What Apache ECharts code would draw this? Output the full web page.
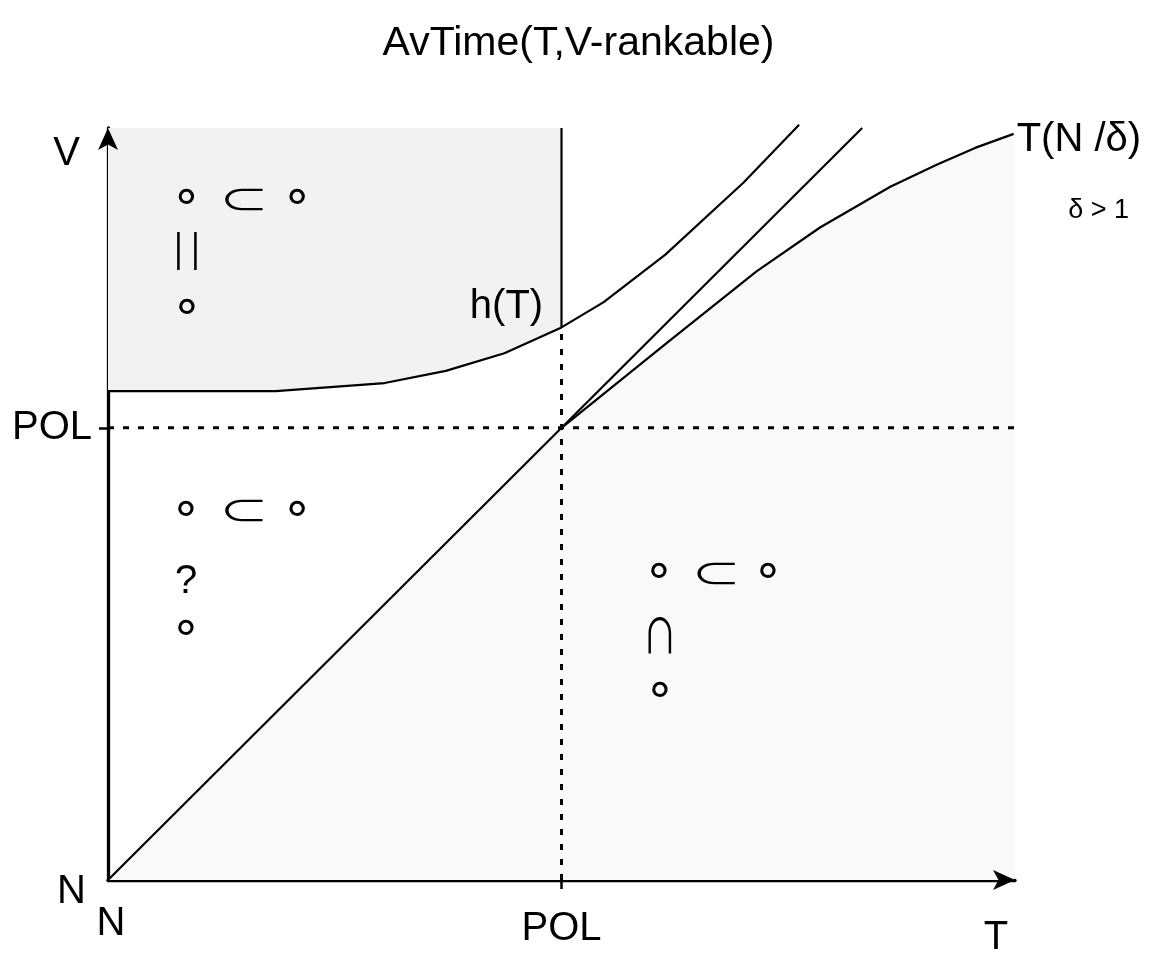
<!DOCTYPE html>
<html>
<head>
<meta charset="utf-8">
<title>AvTime(T,V-rankable)</title>
<script src="https://cdn.jsdelivr.net/npm/echarts@6/dist/echarts.min.js"></script>
<style>
  html, body { margin: 0; padding: 0; background: #ffffff; }
  #chart { width: 1157px; height: 958px; }
</style>
</head>
<body>
<div id="chart"></div>
<script>
// Axis extents (T horizontally, V vertically); N sits at 0, POL at 1.
const T_MAX = 2;
const V_MAX = 1.663;
const POL = 1;
const xTickValues = [0, POL];
const xTickLabels = ['N', 'POL'];
const yTickValues = [0, POL];
const yTickLabels = ['N', 'POL'];

// h(T): bounds the upper-left region from below and keeps rising past POL
const hT = [
  [0, 1.081], [0.37, 1.081], [0.61, 1.099], [0.745, 1.126], [0.874, 1.165],
  [1.0, 1.222], [1.093, 1.278], [1.229, 1.383], [1.401, 1.542], [1.524, 1.670]
];
// the diagonal T = V
const diagonal = [[0, 0], [1.663, 1.663]];
// T(N/δ), leaving the diagonal at (POL, POL)
const tNdelta = [
  [1, 1], [1.229, 1.185], [1.430, 1.346], [1.570, 1.443], [1.725, 1.533],
  [1.826, 1.581], [1.912, 1.619], [1.997, 1.650]
];

// inclusion diagrams written inside the three regions
const glyphText = [
  '∘', '⊂', '∘', '| |', '∘',
  '∘', '⊂', '∘', '?', '∘',
  '∘', '⊂', '∘', '∩', '∘'
];
const glyphT = [
  0.173, 0.300, 0.417, 0.174, 0.174,
  0.172, 0.300, 0.417, 0.172, 0.172,
  1.215, 1.341, 1.455, 1.217, 1.217
];
const glyphV = [
  1.507, 1.504, 1.507, 1.390, 1.262,
  0.817, 0.817, 0.817, 0.659, 0.553,
  0.678, 0.678, 0.678, 0.542, 0.416
];

// curve names, each written next to a point of its curve
const curveLabelText = ['h(T)', 'T(N /δ)', 'δ > 1'];

// ---- derived series data ----
const hAtPol = hT.find(p => p[0] === POL)[1];
const tNdeltaEnd = tNdelta[tNdelta.length - 1];
const curveLabelAnchor = [[POL, hAtPol], tNdeltaEnd, tNdeltaEnd];
const upperRegion = hT.filter(p => p[0] <= POL);
const lowerBoundary = diagonal.filter(p => p[0] < POL).concat(tNdelta);
const glyphData = glyphT.map((t, i) => [t, glyphV[i]]);

const BLACK = '#000000';
const FONT = 'Liberation Sans';
const MATH = 'Noto Sans CJK JP';
const glyphLook = {
  '∘': { family: 'DejaVu Sans', weight: 'normal', size: 50, sx: 1, sy: 1 },
  '⊂': { family: MATH, weight: 'normal', size: 37, sx: 1.35, sy: 0.88 },
  '∩': { family: MATH, weight: 'normal', size: 37, sx: 0.95, sy: 1.28 },
  '| |': { family: FONT, weight: 'normal', size: 40, sx: 0.8, sy: 1 },
  '?': { family: FONT, weight: 'normal', size: 40, sx: 1, sy: 1 }
};
// font, alignment and pixel offset from the anchor for each curve name
const curveLabelLook = [
  { size: 40, align: 'center', dx: -55, dy: -20 },
  { size: 40, align: 'left', dx: 3, dy: 6 },
  { size: 27, align: 'center', dx: 85, dy: 77 }
];

const chart = echarts.init(document.getElementById('chart'), null, { renderer: 'canvas' });

const lineSeries = (name, data, style, z) => ({
  name, type: 'line', data, z: z || 3,
  showSymbol: false, symbol: 'none', silent: true, clip: false,
  lineStyle: Object.assign({ color: BLACK, width: 2.2 }, style)
});

const axisCommon = {
  type: 'value',
  splitLine: { show: false },
  axisLine: { show: true, onZero: false, lineStyle: { color: BLACK, width: 3.3 } },
  axisTick: { show: true, customValues: [POL], length: 9, lineStyle: { color: BLACK, width: 2.5 } }
};

chart.setOption({
  animation: false,
  backgroundColor: '#ffffff',
  textStyle: { fontFamily: FONT, color: BLACK },
  title: {
    text: 'AvTime(T,V-rankable)',
    left: 'center',
    top: 18,
    textStyle: { fontFamily: FONT, fontSize: 41, fontWeight: 'normal', color: BLACK }
  },
  grid: { left: 108, right: 142, top: 128, bottom: 75, containLabel: false },
  xAxis: Object.assign({}, axisCommon, {
    min: 0, max: T_MAX,
    axisLabel: {
      customValues: xTickValues,
      margin: 24,
      color: BLACK, fontFamily: FONT, fontSize: 40,
      formatter: v => (v === 0 ? '{n|' + xTickLabels[0] + '}' : '{p|' + xTickLabels[1] + '}'),
      rich: {
        n: { fontFamily: FONT, fontSize: 40, color: BLACK, padding: [0, 0, 0, 6] },
        p: { fontFamily: FONT, fontSize: 40, color: BLACK, padding: [5, 0, 0, 0] }
      }
    },
    name: 'T', nameLocation: 'end', nameGap: -19,
    nameTextStyle: {
      fontFamily: FONT, fontSize: 40, color: BLACK,
      align: 'center', verticalAlign: 'top', padding: [38, 0, 0, 0]
    }
  }),
  yAxis: Object.assign({}, axisCommon, {
    min: 0, max: V_MAX,
    axisLabel: {
      customValues: yTickValues,
      margin: 16,
      color: BLACK, fontFamily: FONT, fontSize: 40,
      formatter: v => (v === 0 ? '{n|' + yTickLabels[0] + '}' : '{p|' + yTickLabels[1] + '}'),
      rich: {
        n: { fontFamily: FONT, fontSize: 40, color: BLACK, padding: [24, 6, 0, 0] },
        p: { fontFamily: FONT, fontSize: 40, color: BLACK }
      }
    },
    name: 'V', nameLocation: 'end', nameGap: -26,
    nameTextStyle: {
      fontFamily: FONT, fontSize: 40, color: BLACK,
      align: 'right', verticalAlign: 'middle', padding: [0, 28, 0, 0]
    }
  }),
  series: [
    // shaded region above h(T), left of POL
    {
      name: 'upper region', type: 'line', data: upperRegion, z: 1,
      showSymbol: false, symbol: 'none', silent: true,
      lineStyle: { width: 0, opacity: 0 },
      areaStyle: { origin: 'end', color: '#f2f2f2', opacity: 1 }
    },
    // lightly shaded region under the diagonal and under T(N/δ)
    {
      name: 'lower region', type: 'line', data: lowerBoundary, z: 1,
      showSymbol: false, symbol: 'none', silent: true,
      lineStyle: { width: 0, opacity: 0 },
      areaStyle: { origin: 'start', color: '#f9f9f9', opacity: 1 }
    },
    // POL guides
    lineSeries('POL (V)', [[0, POL], [T_MAX, POL]], { type: [6, 9], width: 3 }, 2),
    lineSeries('POL (T)', [[POL, 0], [POL, hAtPol]], { type: [6, 9], width: 3 }, 2),
    lineSeries('POL (T) upper', [[POL, hAtPol], [POL, V_MAX]], {}, 3),
    // curves
    lineSeries('h(T)', hT, {}),
    lineSeries('T = V', diagonal, {}),
    lineSeries('T(N/δ)', tNdelta, {}),
    // arrowheads closing both axes
    {
      name: 'T arrow', type: 'scatter', data: [[T_MAX, 0]], z: 7, silent: true, clip: false,
      symbol: 'arrow', symbolSize: [15, 22], symbolRotate: -90,
      itemStyle: { color: BLACK, opacity: 1 }
    },
    {
      name: 'V arrow', type: 'scatter', data: [[0, V_MAX]], z: 7, silent: true, clip: false,
      symbol: 'arrow', symbolSize: [15, 22],
      itemStyle: { color: BLACK, opacity: 1 }
    },
    // curve names
    {
      name: 'curve labels', type: 'custom', data: curveLabelAnchor, z: 6, silent: true, clip: false,
      encode: { x: 0, y: 1 },
      renderItem: function (params, api) {
        const look = curveLabelLook[params.dataIndex];
        const p = api.coord([api.value(0), api.value(1)]);
        return {
          type: 'text',
          x: p[0] + look.dx, y: p[1] + look.dy,
          style: {
            text: curveLabelText[params.dataIndex],
            fill: BLACK, fontFamily: FONT, fontSize: look.size,
            align: look.align, verticalAlign: 'middle'
          }
        };
      }
    },
    // inclusion diagrams
    {
      name: 'diagrams', type: 'custom', data: glyphData, z: 6, silent: true, clip: false,
      encode: { x: 0, y: 1 },
      renderItem: function (params, api) {
        const text = glyphText[params.dataIndex];
        const look = glyphLook[text];
        const p = api.coord([api.value(0), api.value(1)]);
        return {
          type: 'text',
          x: p[0], y: p[1],
          scaleX: look.sx, scaleY: look.sy,
          style: {
            text: text, fill: BLACK,
            fontFamily: look.family, fontWeight: look.weight, fontSize: look.size,
            align: 'center', verticalAlign: 'middle'
          }
        };
      }
    }
  ]
});
</script>
</body>
</html>
